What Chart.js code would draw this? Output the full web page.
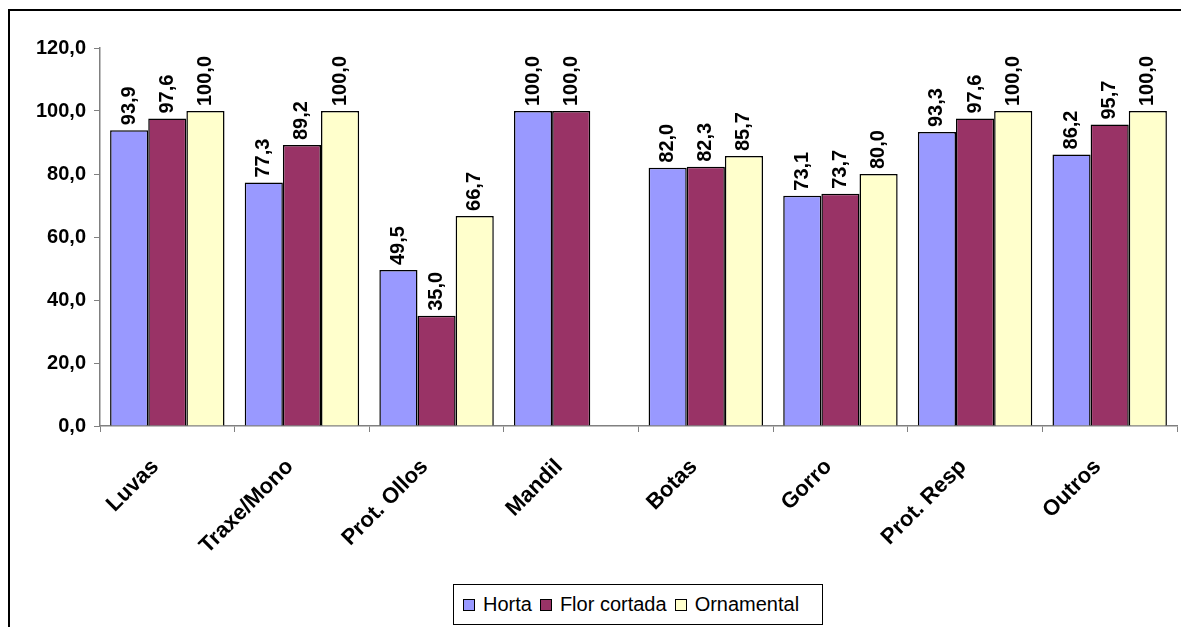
<!DOCTYPE html>
<html>
<head>
<meta charset="utf-8">
<script src="https://cdn.jsdelivr.net/npm/chart.js@4"></script>
<style>
  html, body { margin:0; padding:0; background:#fff; overflow:hidden; }
  #wrap { position:relative; width:1181px; height:627px; }
  #frame { position:absolute; left:8px; top:9px; width:1200px; height:700px; border:2px solid #000; box-sizing:border-box; }
  #legend { position:absolute; left:453px; top:584px; width:370px; height:41px; border:1px solid #000; box-sizing:border-box;
            font-family:Arial, "Liberation Sans", sans-serif; font-size:20px; display:flex; align-items:center; justify-content:flex-start;
            padding-left:9px; gap:8px; background:#fff; }
  #legend span.sw { display:inline-block; width:10px; height:10px; border:1.5px solid #000; margin-right:8px; vertical-align:middle; position:relative; top:-1px; }
</style>
</head>
<body>
<div id="wrap">
  <div id="frame"></div>
  <canvas id="c" width="1181" height="627"></canvas>
  <div id="legend"></div>
</div>
<script>
const categories = ['Luvas', 'Traxe/Mono', 'Prot. Ollos', 'Mandil', 'Botas', 'Gorro', 'Prot. Resp', 'Outros'];
const horta = [93.9, 77.3, 49.5, 100.0, 82.0, 73.1, 93.3, 86.2];
const florCortada = [97.6, 89.2, 35.0, 100.0, 82.3, 73.7, 97.6, 95.7];
const ornamental = [100.0, 100.0, 66.7, null, 85.7, 80.0, 100.0, 100.0];
const seriesNames = ['Horta', 'Flor cortada', 'Ornamental'];
const colors = ['#9999FF', '#993366', '#FFFFCC'];

const fmt = v => v.toFixed(1).replace('.', ',');

// rotated value labels above each bar
const barLabels = {
    id: 'barLabels',
    afterDatasetsDraw(chart) {
        const ctx = chart.ctx;
        ctx.save();
        ctx.font = 'bold 20px Arial, "Liberation Sans", sans-serif';
        ctx.fillStyle = '#000';
        ctx.textAlign = 'left';
        ctx.textBaseline = 'middle';
        chart.data.datasets.forEach((ds, i) => {
            chart.getDatasetMeta(i).data.forEach((bar, j) => {
                const v = ds.data[j];
                if (v == null) return;
                ctx.save();
                ctx.translate(bar.x, bar.y - 5);
                ctx.rotate(-Math.PI / 2);
                ctx.fillText(fmt(v), 0, 0);
                ctx.restore();
            });
        });
        ctx.restore();
    }
};

const data = {
    labels: categories,
    datasets: [horta, florCortada, ornamental].map((d, i) => ({
        label: seriesNames[i],
        data: d,
        backgroundColor: colors[i],
        borderColor: '#000',
        borderWidth: 1.5,
        categoryPercentage: 0.85,
        barPercentage: 1.0
    }))
};

new Chart(document.getElementById('c'), {
    type: 'bar',
    data: data,
    options: {
        responsive: false,
        animation: false,
        layout: { padding: { top: 48, right: 4, left: 0, bottom: 0 } },
        plugins: { legend: { display: false }, tooltip: { enabled: false } },
        scales: {
            x: {
                afterFit: s => { s.height = 201; },
                grid: { drawOnChartArea: false, color: '#808080', tickLength: 6, offset: true },
                border: { color: '#808080', width: 1.5 },
                ticks: {
                    color: '#000',
                    font: { family: 'Arial, "Liberation Sans", sans-serif', size: 22, weight: 'bold' },
                    minRotation: 45, maxRotation: 45, padding: 22, labelOffset: -12
                }
            },
            y: {
                min: 0, max: 120,
                afterFit: s => { s.width = 100; },
                grid: { drawOnChartArea: false, color: '#808080', tickLength: 6 },
                border: { color: '#808080', width: 1.5 },
                ticks: {
                    stepSize: 20,
                    color: '#000',
                    padding: 8,
                    font: { family: 'Arial, "Liberation Sans", sans-serif', size: 20, weight: 'bold' },
                    callback: v => fmt(v)
                }
            }
        }
    },
    plugins: [barLabels]
});

const legend = document.getElementById('legend');
seriesNames.forEach((n, i) => {
    const item = document.createElement('div');
    item.innerHTML = '<span class="sw" style="background:' + colors[i] + '"></span>' + n;
    legend.appendChild(item);
});
</script>
</body>
</html>
